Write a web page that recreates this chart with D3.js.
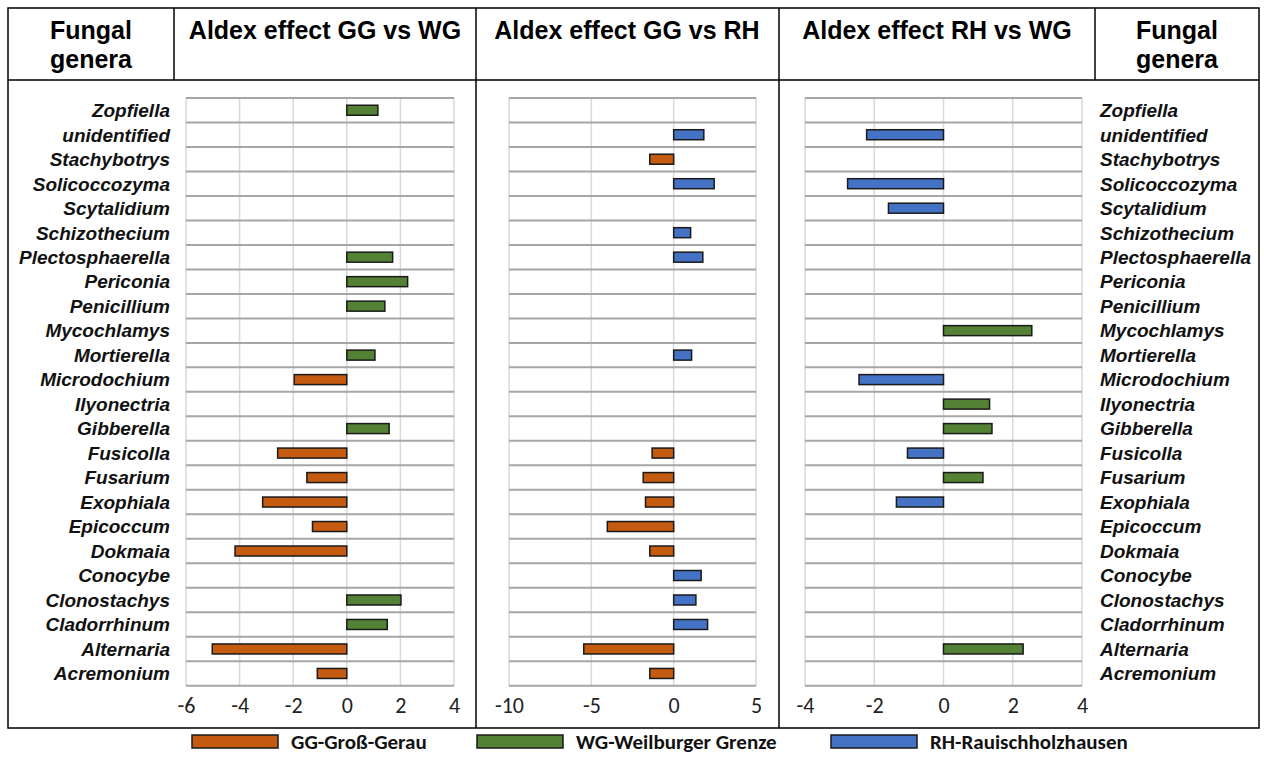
<!DOCTYPE html>
<html>
<head>
<meta charset="utf-8">
<script src="https://cdn.jsdelivr.net/npm/d3@7"></script>
<style>
  body { margin: 0; background: #fff; }
</style>
</head>
<body>
<script>
// genera, top to bottom
const genera = [
  "Zopfiella", "unidentified", "Stachybotrys", "Solicoccozyma", "Scytalidium",
  "Schizothecium", "Plectosphaerella", "Periconia", "Penicillium", "Mycochlamys",
  "Mortierella", "Microdochium", "Ilyonectria", "Gibberella", "Fusicolla",
  "Fusarium", "Exophiala", "Epicoccum", "Dokmaia", "Conocybe",
  "Clonostachys", "Cladorrhinum", "Alternaria", "Acremonium"
];

// aldex effect sizes, null = not significant
const ggVsWg = [1.16, null, null, null, null, null, 1.71, 2.27, 1.42, null,
  1.05, -1.96, null, 1.58, -2.58, -1.49, -3.14, -1.28, -4.17, null,
  2.02, 1.51, -5.02, -1.10];
const ggVsRh = [null, 1.83, -1.45, 2.46, null, 1.03, 1.77, null, null, null,
  1.09, null, null, null, -1.31, -1.85, -1.71, -4.03, -1.45, 1.67,
  1.35, 2.06, -5.46, -1.45];
const rhVsWg = [null, -2.22, null, -2.77, -1.59, null, null, null, null, 2.55,
  null, -2.44, 1.33, 1.40, -1.04, 1.14, -1.36, null, null, null,
  null, null, 2.30, null];

const titles = ["Aldex effect GG vs WG", "Aldex effect GG vs RH", "Aldex effect RH vs WG"];
const ticks1 = [-6, -4, -2, 0, 2, 4];
const ticks2 = [-10, -5, 0, 5];
const ticks3 = [-4, -2, 0, 2, 4];

const sites = ["GG", "WG", "RH"];
const siteNames = ["GG-Groß-Gerau", "WG-Weilburger Grenze", "RH-Rauischholzhausen"];
const siteColors = { GG: "#c55a11", WG: "#548235", RH: "#4472c4" };

const width = 1264;
const height = 757;
const frame = { left: 8, right: 1259, top: 8, bottom: 728, header: 80 };
const arial = "'Liberation Sans', Arimo, Arial, sans-serif";
const narrow = "'Liberation Sans Narrow', 'Arial Narrow', 'Liberation Sans', sans-serif";
const calibri = "Carlito, 'Open Sans', sans-serif";

const svg = d3.select("body").append("svg")
  .attr("width", width)
  .attr("height", height);

const y = d3.scaleBand().domain(genera).range([98, 685.7]);

const panels = [
  { values: ggVsWg, domain: [-6, 4], range: [186, 454], ticks: ticks1, neg: "GG", pos: "WG" },
  { values: ggVsRh, domain: [-10, 5], range: [509, 756], ticks: ticks2, neg: "GG", pos: "RH" },
  { values: rhVsWg, domain: [-4, 4], range: [805, 1082], ticks: ticks3, neg: "RH", pos: "WG" }
];

panels.forEach((p) => {
  const x = d3.scaleLinear().domain(p.domain).range(p.range);
  const g = svg.append("g");

  // vertical gridlines
  g.selectAll("line.vgrid")
    .data(p.ticks)
    .join("line")
    .attr("x1", (d) => x(d))
    .attr("x2", (d) => x(d))
    .attr("y1", y.range()[0])
    .attr("y2", y.range()[1])
    .attr("stroke", "#d9d9d9")
    .attr("stroke-width", 1.5);

  // horizontal row lines
  const rows = genera.map((d) => y(d)).concat([y.range()[1]]);
  g.selectAll("line.hgrid")
    .data(rows)
    .join("line")
    .attr("x1", p.range[0])
    .attr("x2", p.range[1])
    .attr("y1", (d) => d)
    .attr("y2", (d) => d)
    .attr("stroke", "#a6a6a6")
    .attr("stroke-width", 2);

  const data = genera
    .map((name, i) => ({ name, v: p.values[i] }))
    .filter((d) => d.v !== null);

  g.selectAll("rect")
    .data(data)
    .join("rect")
    .attr("x", (d) => Math.min(x(0), x(d.v)))
    .attr("width", (d) => Math.abs(x(d.v) - x(0)))
    .attr("y", (d) => y(d.name) + y.bandwidth() / 2 - 5)
    .attr("height", 10)
    .attr("fill", (d) => siteColors[d.v < 0 ? p.neg : p.pos])
    .attr("stroke", "#1a1a1a")
    .attr("stroke-width", 1.5);

  const axis = svg.append("g")
    .attr("transform", "translate(0,697)")
    .call(d3.axisBottom(x).tickValues(p.ticks).tickFormat((d) => String(d))
      .tickSize(0).tickPadding(0));
  axis.select(".domain").remove();
  axis.selectAll("text")
    .attr("font-family", calibri)
    .attr("font-size", 22)
    .attr("fill", "#222");
});

// genus labels on both sides
const labelStyle = (sel) => sel
  .attr("y", (d) => y(d) + y.bandwidth() / 2)
  .attr("dy", "0.36em")
  .attr("font-family", arial)
  .attr("font-size", 19)
  .attr("font-weight", "bold")
  .attr("font-style", "italic")
  .attr("fill", "#111")
  .text((d) => d);

svg.append("g").selectAll("text")
  .data(genera)
  .join("text")
  .attr("x", 170)
  .attr("text-anchor", "end")
  .call(labelStyle);

svg.append("g").selectAll("text")
  .data(genera)
  .join("text")
  .attr("x", 1100)
  .attr("text-anchor", "start")
  .call(labelStyle);

// table frame
const frameG = svg.append("g").attr("stroke", "#000").attr("stroke-width", 1.5);
frameG.append("rect")
  .attr("x", frame.left)
  .attr("y", frame.top)
  .attr("width", frame.right - frame.left)
  .attr("height", frame.bottom - frame.top)
  .attr("fill", "none");
frameG.append("line")
  .attr("x1", frame.left).attr("x2", frame.right)
  .attr("y1", frame.header).attr("y2", frame.header);
[[174, frame.header], [476, frame.bottom], [779, frame.bottom], [1095, frame.header]]
  .forEach(([lx, ly]) => {
    frameG.append("line")
      .attr("x1", lx).attr("x2", lx)
      .attr("y1", frame.top).attr("y2", ly);
  });

// header texts
const header = svg.append("g")
  .attr("font-family", narrow)
  .attr("font-size", 25)
  .attr("font-weight", "bold")
  .attr("fill", "#000")
  .attr("text-anchor", "middle");

[91, 1177].forEach((cx) => {
  header.append("text").attr("x", cx).attr("y", 39).text("Fungal");
  header.append("text").attr("x", cx).attr("y", 68).text("genera");
});
[325, 627, 937].forEach((cx, i) => {
  header.append("text").attr("x", cx).attr("y", 39).text(titles[i]);
});

// legend
const legendX = [192, 477, 831];
const legend = svg.append("g")
  .selectAll("g")
  .data(sites)
  .join("g")
  .attr("transform", (d, i) => `translate(${legendX[i]},735)`);

legend.append("rect")
  .attr("width", 86)
  .attr("height", 13)
  .attr("fill", (d) => siteColors[d])
  .attr("stroke", "#1a1a1a")
  .attr("stroke-width", 1.5);

legend.append("text")
  .attr("x", 99)
  .attr("y", 14)
  .attr("font-family", calibri)
  .attr("font-size", 21)
  .attr("font-weight", "bold")
  .attr("fill", "#111")
  .text((d, i) => siteNames[i]);
</script>
</body>
</html>
